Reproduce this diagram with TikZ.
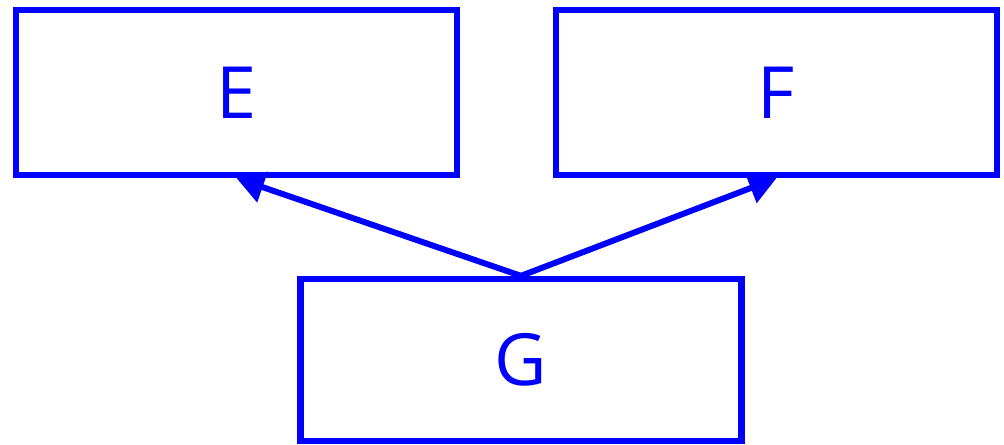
\documentclass[tikz,border=0pt]{standalone}
\usepackage{fontspec}
\setsansfont{Open Sans}
\usetikzlibrary{arrows.meta}

\begin{document}
\begin{tikzpicture}[
  font=\sffamily\fontsize{41}{48}\selectfont,
  block/.style={draw=blue, text=blue, line width=3.6pt,
    minimum width=8.82cm, minimum height=3.3cm, inner sep=0pt},
  link/.style={-{Triangle[length=0.55cm,width=0.62cm]}, line width=3.4pt, draw=blue}
]
  \useasboundingbox (0,0) rectangle (20.08,-8.88);
  \node[block] (E) at (4.73,-1.85) {E};
  \node[block] (F) at (15.53,-1.85) {F};
  \node[block, minimum height=3.24cm] (G) at (10.42,-7.2) {G};
  \draw[link] (G.north) -- (E.south);
  \draw[link] (G.north) -- (F.south);
\end{tikzpicture}
\end{document}
